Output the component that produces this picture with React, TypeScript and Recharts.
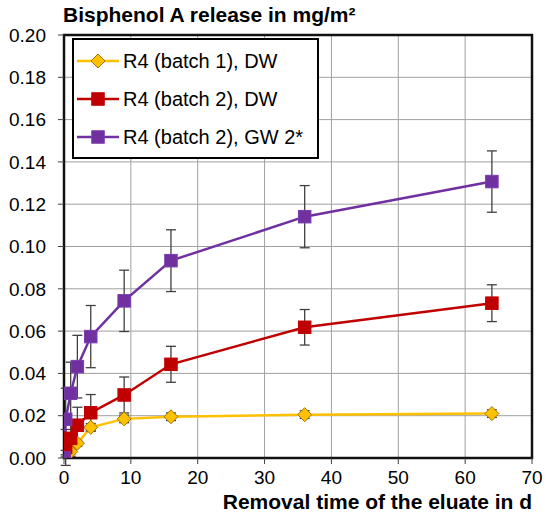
import React from 'react';
import { LineChart, CartesianGrid, XAxis, YAxis, Line, ErrorBar, ReferenceArea } from 'recharts';

// removal time in days
const days = [0, 0.25, 1, 2, 4, 9, 16, 36, 64];

const batch1DW = [0, 0.001, 0.003, 0.007, 0.0145, 0.0185, 0.0195, 0.0205, 0.021];
const batch1DWErr = [0, 0.0005, 0.001, 0.0015, 0.0018, 0.0018, 0.0018, 0.0018, 0.0018];

const batch2DW = [0, 0.005, 0.0093, 0.0155, 0.0214, 0.0298, 0.0443, 0.0618, 0.0732];
const batch2DWErr = [0, 0.0085, 0.0085, 0.0085, 0.0086, 0.0085, 0.0085, 0.0084, 0.0087];

const batch2GW = [0, 0.0183, 0.0306, 0.0432, 0.0574, 0.0743, 0.0933, 0.1141, 0.1307];
const batch2GWErr = [0, 0.0147, 0.0147, 0.0148, 0.0147, 0.0145, 0.0146, 0.0147, 0.0145];

const xTicks = [0, 10, 20, 30, 40, 50, 60, 70];
const yTicks = [0, 0.02, 0.04, 0.06, 0.08, 0.1, 0.12, 0.14, 0.16, 0.18, 0.2];

const FONT = '"Liberation Sans", Arial, sans-serif';

const toRows = (vals: number[], errs: number[]) =>
    days.map((x, i) => ({ x, y: vals[i], err: errs[i] }));

const series = [
    { name: 'R4 (batch 1), DW', color: '#FFC000', edge: '#A07800', shape: 'diamond', rows: toRows(batch1DW, batch1DWErr) },
    { name: 'R4 (batch 2), DW', color: '#C00000', edge: '#C00000', shape: 'square', rows: toRows(batch2DW, batch2DWErr) },
    { name: 'R4 (batch 2), GW 2*', color: '#7030A0', edge: '#7A3CB0', shape: 'square', rows: toRows(batch2GW, batch2GWErr) },
];

function Marker({ cx, cy, shape, fill, edge }: any) {
    if (cx == null || cy == null) return null;
    if (shape === 'diamond') {
        const r = 7;
        return (
            <polygon
                points={`${cx},${cy - r} ${cx + r},${cy} ${cx},${cy + r} ${cx - r},${cy}`}
                fill={fill}
                stroke={edge}
                strokeWidth={1}
            />
        );
    }
    const s = 12.5;
    return <rect x={cx - s / 2} y={cy - s / 2} width={s} height={s} fill={fill} stroke={edge} strokeWidth={1} />;
}

function LegendBox() {
    return (
        <div
            style={{
                position: 'absolute',
                left: 72,
                top: 38,
                width: 243,
                height: 117,
                border: '2px solid #000',
                background: '#fff',
                fontFamily: FONT,
                fontSize: 20,
            }}
        >
            {series.map((s, i) => (
                <div key={s.name} style={{ display: 'flex', alignItems: 'center', height: 38, marginTop: i === 0 ? 2 : 0 }}>
                    <svg width={46} height={20} style={{ marginLeft: 3 }}>
                        <line x1={0} y1={10} x2={42} y2={10} stroke={s.color} strokeWidth={2.5} />
                        <Marker cx={21} cy={10} shape={s.shape} fill={s.color} edge={s.edge} />
                    </svg>
                    <span style={{ color: '#000' }}>{s.name}</span>
                </div>
            ))}
        </div>
    );
}

export default function App() {
    return (
        <div style={{ position: 'absolute', left: 0, top: 0, width: 550, height: 520, background: '#fff', fontFamily: FONT }}>
            <div style={{ position: 'absolute', left: 63, top: 3, fontSize: 21, fontWeight: 'bold', color: '#000', whiteSpace: 'nowrap' }}>
                Bisphenol A release in mg/m²
            </div>
            <LineChart width={550} height={520} margin={{ top: 35, right: 18, left: 0, bottom: 0 }}>
                <CartesianGrid stroke="#A0A0A0" strokeWidth={1} />
                <XAxis
                    type="number"
                    dataKey="x"
                    domain={[0, 70]}
                    ticks={xTicks}
                    interval={0}
                    height={62}
                    axisLine={false}
                    tickLine={{ stroke: '#404040' }}
                    tickSize={6}
                    tickMargin={7}
                    tick={{ fill: '#000', fontSize: 19, fontFamily: FONT }}
                    allowDataOverflow
                />
                <YAxis
                    type="number"
                    domain={[0, 0.2]}
                    ticks={yTicks}
                    interval={0}
                    width={64}
                    axisLine={false}
                    tickLine={{ stroke: '#404040' }}
                    tickSize={6}
                    tickMargin={12}
                    tickFormatter={(v: number) => v.toFixed(2)}
                    tick={{ fill: '#000', fontSize: 19, fontFamily: FONT }}
                    allowDataOverflow
                />
                <ReferenceArea x1={0} x2={70} y1={0} y2={0.2} fill="none" stroke="#111" strokeWidth={2.5} ifOverflow="visible" />
                {series.map((s) => (
                    <Line
                        key={s.name}
                        name={s.name}
                        data={s.rows}
                        dataKey="y"
                        type="linear"
                        stroke={s.color}
                        strokeWidth={2.5}
                        isAnimationActive={false}
                        dot={(p: any) => <Marker key={`${s.name}-${p.index}`} cx={p.cx} cy={p.cy} shape={s.shape} fill={s.color} edge={s.edge} />}
                        activeDot={false}
                    >
                        <ErrorBar dataKey="err" direction="y" width={5} stroke="#404040" strokeWidth={1.3} isAnimationActive={false} />
                    </Line>
                ))}
            </LineChart>
            <LegendBox />
            <div style={{ position: 'absolute', right: 18, top: 491, fontSize: 21, lineHeight: '21px', fontWeight: 'bold', color: '#000', whiteSpace: 'nowrap' }}>
                Removal time of the eluate in d
            </div>
        </div>
    );
}
